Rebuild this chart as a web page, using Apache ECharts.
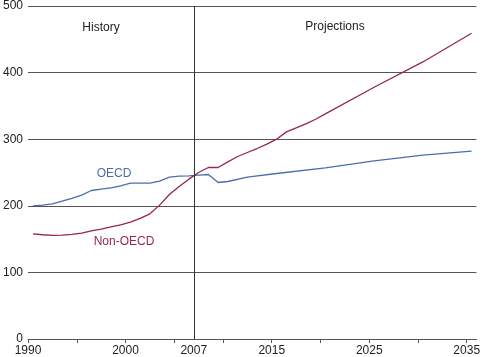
<!DOCTYPE html>
<html>
<head>
<meta charset="utf-8">
<script src="https://cdn.jsdelivr.net/npm/echarts@6/dist/echarts.min.js"></script>
<style>html,body{margin:0;padding:0;background:#fff}#c{width:483px;height:357px}</style>
</head>
<body>
<div id="c"></div>
<script>
// ---- data ----
const oecdYears = [1990,1991,1992,1993,1994,1995,1996,1997,1998,1999,2000,2001,2002,2003,2004,2005,2006,2007,2008,2009,
  2010,2012,2015,2020,2025,2030,2035];
const oecdValues = [200,201,203,207,211,216,223,225,227,230,234,234,234,237,243,244.5,245,246,247,235,
  236.5,243,248.5,257,267.5,276,282];
const nonOecdYears = [1990,1991,1992,1993,1994,1995,1996,1997,1998,1999,2000,2001,2002,2003,2004,2005,2006,2007,2008,2009,
  2010,2011,2012,2013,2014,2015,2016,2017,2018,2019,2020,2025,2030,2035];
const nonOecdValues = [158,156.5,155.5,156,157,159,162.5,165,168.5,171.5,175.5,181,188,201,217,229,240,250,257.5,257.5,
  266,274,280,286,292.5,300,311,317,323,330,338,378,416,459];
const xTickYears = [1990,1995,2000,2005,2010,2015,2020,2025,2030,2035];
const xLabelYears = [1990,2000,2007,2015,2025,2035];
const dividerYear = 2007;
const seriesNames = ['OECD','Non-OECD'];

// each annual value is drawn at the middle of its year
const pairs = (ys, vs) => ys.map((y, i) => [y + 0.5, vs[i]]);

const FONT = 'Liberation Sans, Arial, sans-serif';
const BLUE = '#4a6fa8';
const RED = '#962650';
const GRID = '#555555';

const chart = echarts.init(document.getElementById('c'), null, {renderer: 'canvas'});
chart.setOption({
  animation: false,
  backgroundColor: '#ffffff',
  grid: {left: 25, right: 3.5, top: 5, bottom: 18, containLabel: false},
  xAxis: {
    type: 'value', min: 1990, max: 2036,
    axisLine: {show: true, lineStyle: {color: GRID, width: 1}},
    axisTick: {show: true, length: 4, customValues: xTickYears, lineStyle: {color: GRID}},
    axisLabel: {customValues: xLabelYears, formatter: v => String(v), color: '#222', fontSize: 12, fontFamily: FONT, margin: 6},
    splitLine: {show: false}
  },
  yAxis: {
    type: 'value', min: 0, max: 500, interval: 100,
    axisLine: {show: false}, axisTick: {show: false},
    axisLabel: {color: '#222', fontSize: 12, fontFamily: FONT, margin: 5},
    splitLine: {show: true, lineStyle: {color: GRID, width: 1}}
  },
  series: [
    {
      name: seriesNames[0], type: 'line', showSymbol: false, symbol: 'none',
      data: pairs(oecdYears, oecdValues),
      lineStyle: {color: BLUE, width: 1.3},
      markLine: {
        silent: true, symbol: ['none','none'], label: {show: false},
        lineStyle: {color: '#333', width: 1, type: 'solid'},
        data: [{xAxis: dividerYear}]
      },
      z: 3
    },
    {
      name: seriesNames[1], type: 'line', showSymbol: false, symbol: 'none',
      data: pairs(nonOecdYears, nonOecdValues),
      lineStyle: {color: RED, width: 1.3},
      z: 4
    }
  ],
  graphic: [
    {type: 'text', x: 101, y: 28, style: {text: 'History', fill: '#222', font: '12px ' + FONT, textAlign: 'center', textVerticalAlign: 'middle'}},
    {type: 'text', x: 335, y: 27, style: {text: 'Projections', fill: '#222', font: '12px ' + FONT, textAlign: 'center', textVerticalAlign: 'middle'}},
    {type: 'text', x: 114, y: 174, style: {text: 'OECD', fill: BLUE, font: '12px ' + FONT, textAlign: 'center', textVerticalAlign: 'middle'}},
    {type: 'text', x: 124, y: 242, style: {text: 'Non-OECD', fill: RED, font: '12px ' + FONT, textAlign: 'center', textVerticalAlign: 'middle'}}
  ]
});
</script>
</body>
</html>
